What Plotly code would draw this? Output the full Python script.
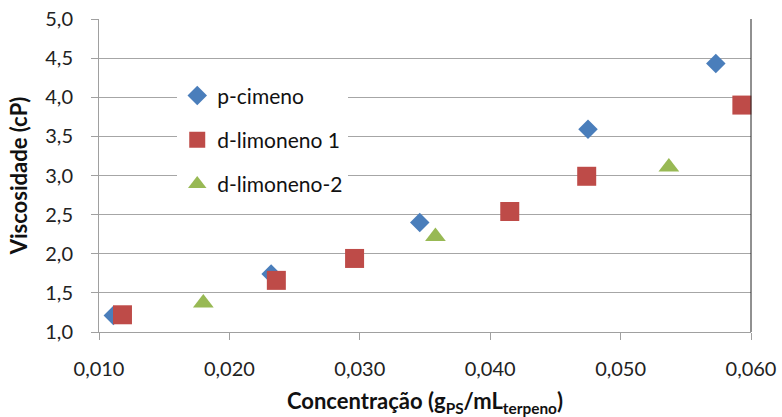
import plotly.graph_objects as go

# Data
p_cimeno_x = [0.0111, 0.0232, 0.0346, 0.0475, 0.0573]
p_cimeno_y = [1.21, 1.74, 2.40, 3.59, 4.43]

d_lim1_x = [0.0118, 0.0236, 0.0296, 0.0415, 0.0474, 0.0593]
d_lim1_y = [1.22, 1.66, 1.94, 2.54, 2.99, 3.90]

d_lim2_x = [0.0180, 0.0358, 0.0537]
d_lim2_y = [1.37, 2.22, 3.11]

x_ticks = [0.010, 0.020, 0.030, 0.040, 0.050, 0.060]
x_tick_labels = ["0,010", "0,020", "0,030", "0,040", "0,050", "0,060"]
y_ticks = [1.0, 1.5, 2.0, 2.5, 3.0, 3.5, 4.0, 4.5, 5.0]
y_tick_labels = ["1,0", "1,5", "2,0", "2,5", "3,0", "3,5", "4,0", "4,5", "5,0"]

FONT = "Lato, 'Open Sans', sans-serif"

fig = go.Figure()
fig.add_trace(go.Scatter(
    x=p_cimeno_x, y=p_cimeno_y, mode="markers", name="p-cimeno",
    legendgroup="a",
    marker=dict(symbol="diamond", size=15, color="#4A7EBB"),
    cliponaxis=False,
))
fig.add_trace(go.Scatter(
    x=d_lim1_x, y=d_lim1_y, mode="markers", name="d-limoneno 1",
    legendgroup="b",
    marker=dict(symbol="square", size=19, color="#BE4B48"),
    cliponaxis=False,
))
fig.add_trace(go.Scatter(
    x=d_lim2_x, y=d_lim2_y, mode="markers", name="d-limoneno-2",
    legendgroup="c",
    marker=dict(symbol="triangle-up", size=18, color="#98B954"),
    cliponaxis=False,
))

fig.update_layout(
    width=782, height=417,
    margin=dict(l=99, r=31, t=19, b=85),
    plot_bgcolor="white", paper_bgcolor="white",
    font=dict(family=FONT, size=20, color="#222222"),
    legend=dict(
        x=0.12, y=0.82, xanchor="left", yanchor="top",
        bgcolor="white", font=dict(size=21, color="#111111"),
        traceorder="grouped", tracegroupgap=14,
        itemsizing="trace",
    ),
    xaxis=dict(
        range=[0.010, 0.060], tickvals=x_ticks, ticktext=x_tick_labels,
        showgrid=False, zeroline=False, automargin=False,
        showline=True, linecolor="#A0A0A0", linewidth=1,
        ticks="outside", ticklen=7, tickcolor="#A0A0A0",
        ticklabelstandoff=12,
        tickfont=dict(size=20, color="#222222"),
        title=dict(text="<b>Concentração (g<sub>PS</sub>/mL<sub>terpeno</sub>)</b>",
                   font=dict(size=22, color="#111111"), standoff=15),
    ),
    yaxis=dict(
        range=[1.0, 5.0], tickvals=y_ticks, ticktext=y_tick_labels,
        showgrid=True, gridcolor="#A6A6A6", gridwidth=1, zeroline=False,
        automargin=False,
        showline=True, linecolor="#A0A0A0", linewidth=1,
        ticks="outside", ticklen=7, tickcolor="#A0A0A0",
        ticklabelstandoff=14,
        tickfont=dict(size=20, color="#222222"),
        title=dict(text="<b>Viscosidade (cP)</b>",
                   font=dict(size=22, color="#111111"), standoff=11),
    ),
    shapes=[dict(type="line", xref="paper", yref="paper", x0=1, x1=1, y0=0, y1=1,
                 line=dict(color="#222222", width=1))],
)

fig.write_html("out.html")
